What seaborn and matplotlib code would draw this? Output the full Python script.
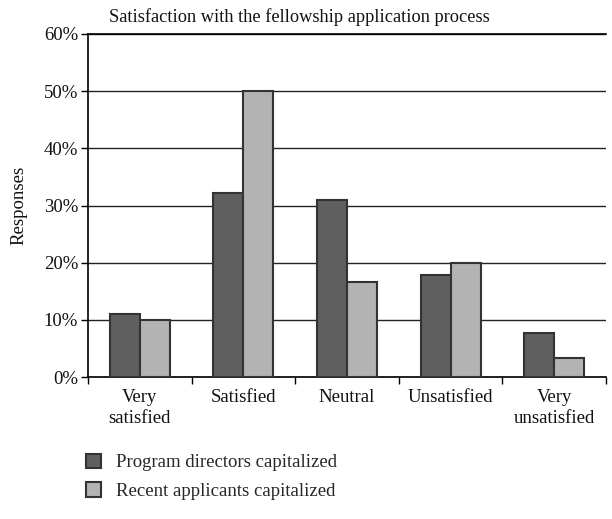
import matplotlib
matplotlib.use("Agg")
import matplotlib.pyplot as plt
import seaborn as sns
import pandas as pd
from matplotlib.ticker import FuncFormatter, FixedLocator
from matplotlib.patches import Patch

categories = ["Very\nsatisfied", "Satisfied", "Neutral", "Unsatisfied", "Very\nunsatisfied"]
series_names = ["Program directors capitalized", "Recent applicants capitalized"]
program_directors = [11.1, 32.1, 31.0, 17.8, 7.7]
recent_applicants = [10.0, 50.0, 16.7, 20.0, 3.3]
y_ticks = [0, 10, 20, 30, 40, 50, 60]

colors = ["#5f5f5f", "#b3b3b3"]
edge = "#333333"

df = pd.DataFrame({
    "category": categories * 2,
    "series": [series_names[0]] * 5 + [series_names[1]] * 5,
    "value": program_directors + recent_applicants,
})

sns.set_theme(style="white")
plt.rcParams["font.family"] = ["Liberation Serif", "DejaVu Serif"]

fig = plt.figure(figsize=(6.12, 5.19), dpi=100)
ax = fig.add_axes([88/612, 1 - 377/519, (606 - 88)/612, (377 - 34)/519])

sns.barplot(data=df, x="category", y="value", hue="series", order=categories,
            hue_order=series_names, palette=colors, width=0.58, ax=ax,
            edgecolor=edge, linewidth=1.5, legend=False, zorder=3)

ax.set_ylim(0, 60)
ax.set_xlim(-0.5, 4.5)
ax.yaxis.set_major_locator(FixedLocator(y_ticks))
ax.yaxis.set_major_formatter(FuncFormatter(lambda v, p: f"{int(v)}%"))
ax.grid(axis="y", color="#222222", linewidth=1.0, zorder=0)
ax.set_axisbelow(True)

ax.spines["right"].set_visible(False)
for s in ["left", "bottom", "top"]:
    ax.spines[s].set_color("black")
    ax.spines[s].set_linewidth(1.2)

ax.tick_params(axis="y", which="major", left=True, length=5, width=1, color="black",
               labelsize=13.5, pad=2, labelcolor="#111111")
ax.tick_params(axis="x", which="major", bottom=False, labelsize=13.5, pad=3,
               labelcolor="#111111")
for lbl in ax.get_xticklabels():
    lbl.set_linespacing(1.25)
ax.xaxis.set_minor_locator(FixedLocator([-0.5, 0.5, 1.5, 2.5, 3.5, 4.5]))
ax.tick_params(axis="x", which="minor", bottom=True, length=5, width=1, color="black")

ax.set_xlabel("")
ax.set_ylabel("Responses", fontsize=13.5, color="#111111", labelpad=12)

fig.text(299/612, 1 - 17/519, "Satisfaction with the fellowship application process",
         ha="center", va="center", fontsize=13.2, color="#111111")

handles = [Patch(facecolor=colors[i], edgecolor=edge, linewidth=1.5, label=series_names[i])
           for i in range(2)]
fig.legend(handles=handles, loc="upper left", bbox_to_anchor=(78/612, 1 - 446/519),
           frameon=False, fontsize=13.5, handlelength=0.8, handleheight=0.8,
           handletextpad=0.8, labelspacing=0.6, borderaxespad=0)

fig.savefig("out.png", dpi=100)
